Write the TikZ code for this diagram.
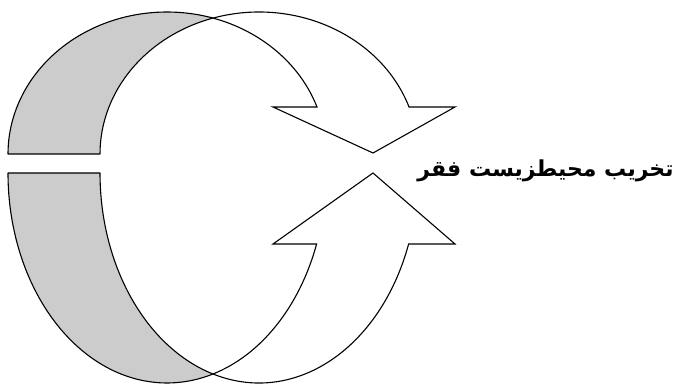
\documentclass[tikz,border=0pt]{standalone}
\usepackage{fontspec}
\newfontfamily\arabicfont[Script=Arabic,BoldFont={DejaVu Sans Bold}]{DejaVu Sans}
\TeXXeTstate=1
\definecolor{backgray}{HTML}{CCCCCC}
\tikzset{
  backpart/.style={draw=black, fill=backgray, line width=1.1pt, line join=round},
  frontpart/.style={draw=black, fill=white, line width=1.1pt, line join=miter},
  label/.style={font=\arabicfont\bfseries\fontsize{22}{26}\selectfont, inner sep=0pt}
}
\begin{document}
\begin{tikzpicture}[x=1pt,y=1pt]
\useasboundingbox (0,0) rectangle (675,385);
% ---- top curved arrow (ellipses centred at y=231) ----
\draw[backpart] (8,231) arc[start angle=180, end angle=73.18, x radius=159pt, y radius=142pt]
   arc[start angle=106.82, end angle=180, x radius=159pt, y radius=142pt] -- cycle;
\draw[frontpart] (213,366.9) arc[start angle=106.82, end angle=19.33, x radius=159pt, y radius=142pt]
   -- (455,278) -- (373,232) -- (273,278) -- (317,278)
   arc[start angle=19.33, end angle=73.18, x radius=159pt, y radius=142pt] -- cycle;
% ---- bottom curved arrow (ellipses centred at y=212) ----
\draw[backpart] (8,212) arc[start angle=180, end angle=286.82, x radius=159pt, y radius=210pt]
   arc[start angle=253.18, end angle=180, x radius=159pt, y radius=210pt] -- cycle;
\draw[frontpart] (213,11) arc[start angle=-106.82, end angle=-19.76, x radius=159pt, y radius=210pt]
   -- (455,141) -- (373,212) -- (273,141) -- (316.6,141)
   arc[start angle=-19.76, end angle=-73.18, x radius=159pt, y radius=210pt] -- cycle;
% ---- label ----
\node[label] (lbl) at (545.5,214) {\beginR تخریب محیطزیست فقر\endR};
\end{tikzpicture}
\end{document}
